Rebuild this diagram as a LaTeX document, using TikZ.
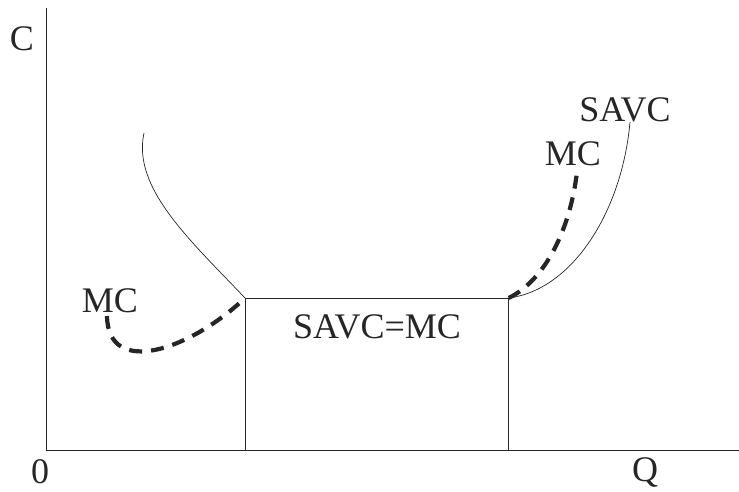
\documentclass[tikz,border=0pt]{standalone}
\usepackage{fontspec}
\setmainfont{Liberation Serif}
\begin{document}
\begin{tikzpicture}[x=1pt,y=-1pt,
  lbl/.style={font=\fontsize{36}{38}\selectfont, text=black!85, inner sep=0pt},
  thin line/.style={line width=0.7pt, black!85},
  mcline/.style={line width=4.2pt, black!85, dash pattern=on 13pt off 9pt}]
\useasboundingbox (0,0) rectangle (739,491);
\coordinate (ytop) at (46,8);
\coordinate (orig) at (46,450);
\coordinate (xend) at (739,450);
\draw[thin line] (ytop) -- (orig) -- (xend);
\node[lbl] (C) at (22,39) {C};
\node[lbl] (zero) at (40,472) {0};
\node[lbl] (Q) at (645,472) {Q};
\node[thin line, draw, minimum width=263pt, minimum height=152pt, inner sep=0pt, anchor=north west] (box) at (245,298) {};
\node[lbl] (eq) at (377,327) {SAVC=MC};
\coordinate (s1) at (144,133);
\draw[thin line] (s1) .. controls (132,188) and (190,240) .. (box.north west);
\coordinate (m1) at (107,316);
\draw[mcline] (m1) .. controls (108,378) and (190,350) .. (box.north west);
\coordinate (s2) at (630,122);
\draw[thin line] (box.north east) .. controls (572,290) and (622,212) .. (s2);
\coordinate (m2) at (577,172);
\draw[mcline] (box.north east) .. controls (545,280) and (570,230) .. (m2);
\node[lbl] (mcl) at (110,301) {MC};
\node[lbl] (savc) at (625,110) {SAVC};
\node[lbl] (mcr) at (573,154) {MC};
\end{tikzpicture}
\end{document}
